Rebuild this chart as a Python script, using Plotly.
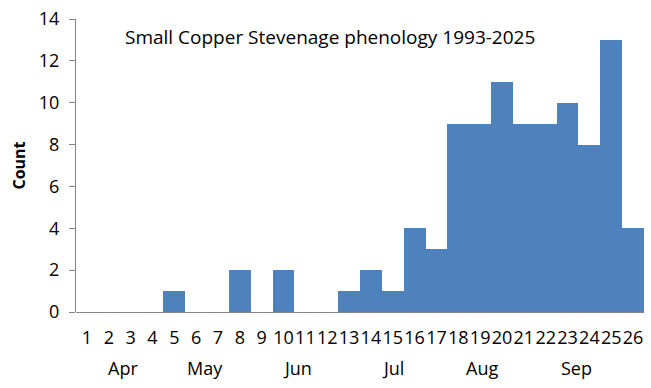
import plotly.graph_objects as go

weeks = list(range(1, 27))
counts = [0, 0, 0, 0, 1, 0, 0, 2, 0, 2, 0, 0, 1, 2, 1, 4, 3, 9, 9, 11, 9, 9, 10, 8, 13, 4]
week_labels = [str(w) for w in weeks]
months = ["Apr", "May", "Jun", "Jul", "Aug", "Sep"]
month_pos = [2.65, 6.4, 10.66, 15.0, 19.1, 23.4]
title_text = "Small Copper Stevenage phenology 1993-2025"

FONT = "Open Sans"
fig = go.Figure()
fig.add_trace(go.Bar(x=weeks, y=counts, marker=dict(color="#4F81BD", line=dict(width=0)),
                     width=1.0))

for m, p in zip(months, month_pos):
    fig.add_annotation(x=p, y=0, xref="x", yref="y", text=m, showarrow=False,
                       yanchor="middle", yshift=-56, font=dict(family=FONT, size=18, color="black"))

fig.add_annotation(x=0.448, y=1.0, xref="paper", yref="paper", text=title_text, showarrow=False,
                   xanchor="center", yanchor="middle", yshift=-18,
                   font=dict(family=FONT, size=19, color="black"))

fig.update_layout(
    width=651, height=388,
    margin=dict(l=76, r=7, t=19, b=76, autoexpand=False),
    plot_bgcolor="white", paper_bgcolor="white",
    showlegend=False, bargap=0,
    font=dict(family=FONT, size=18, color="black"),
)
fig.update_xaxes(range=[0.5, 26.5], tickmode="array", tickvals=weeks, ticktext=week_labels,
                 ticks="", showgrid=False, showline=False, zeroline=False, tickangle=0,
                 ticklabelstandoff=13, tickfont=dict(family=FONT, size=18, color="black"))
fig.update_yaxes(range=[0, 14], dtick=2, ticks="outside", ticklen=6, tickcolor="#868686",
                 showline=True, linecolor="#868686", linewidth=1, showgrid=False,
                 zeroline=True, zerolinecolor="#868686", zerolinewidth=1,
                 ticklabelstandoff=6,
                 tickfont=dict(family=FONT, size=18, color="black"),
                 title=dict(text="<b>Count</b>", standoff=9, font=dict(family=FONT, size=16, color="black")))

fig.write_html("out.html", config={"displayModeBar": False},
               post_script="document.body.style.margin='0';document.body.style.padding='0';")
